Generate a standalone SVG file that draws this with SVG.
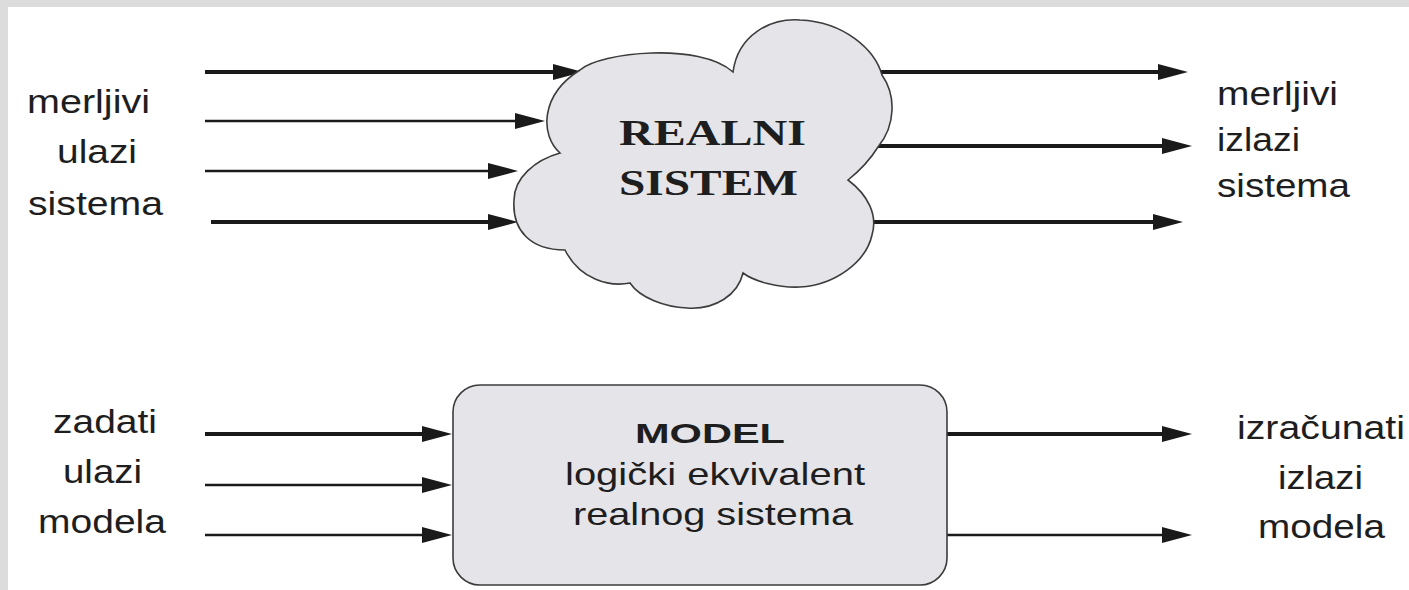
<svg xmlns="http://www.w3.org/2000/svg" width="1409" height="590" viewBox="0 0 1409 590">
  <style>
    .lbl { font-family: "Liberation Sans", Arial, sans-serif; font-size: 33px; fill: #1e1e1e; }
    .cloudtxt { font-family: "Liberation Serif", "Times New Roman", serif; font-size: 35px; font-weight: bold; fill: #1e1e1e; }
    .boxtitle { font-family: "Liberation Sans", Arial, sans-serif; font-size: 28px; font-weight: bold; fill: #1e1e1e; }
    .boxtxt { font-family: "Liberation Sans", Arial, sans-serif; font-size: 32px; fill: #1e1e1e; }
    .thick { stroke: #1a1a1a; stroke-width: 3.8; fill: none; marker-end: url(#arrow); }
    .thin { stroke: #1a1a1a; stroke-width: 2.3; fill: none; marker-end: url(#arrow); }
    .shape { fill: #e5e5e9; stroke: #3c3c3c; stroke-width: 1.6; }
  </style>
  <defs>
    <marker id="arrow" markerUnits="userSpaceOnUse" markerWidth="30" markerHeight="16" refX="2" refY="8" orient="auto">
      <path d="M0,0 L30,8 L0,16 Z" fill="#1a1a1a"/>
    </marker>
  </defs>

  <rect x="0" y="0" width="1409" height="590" fill="#dcdcdc"/>
  <rect x="8" y="7" width="1401" height="583" fill="#ffffff"/>

  <g id="connectors">
    <path class="thick" d="M205,72 H555"/>
    <path class="thin" d="M205,121 H517"/>
    <path class="thin" d="M205,171 H490"/>
    <path class="thick" d="M211,222 H490"/>
    <path class="thick" d="M878,72 H1160"/>
    <path class="thick" d="M878,146 H1164"/>
    <path class="thick" d="M872,222 H1155"/>
    <path class="thick" d="M205,434 H424"/>
    <path class="thin" d="M205,485 H424"/>
    <path class="thin" d="M205,535 H424"/>
    <path class="thick" d="M947,434 H1164"/>
    <path class="thin" d="M947,535 H1164"/>
  </g>

  <g id="realni-sistem">
    <path class="shape" d="M580,70 C600,52 700,42 733,72 C738,35 770,18 800,20 C845,22 875,50 882,75 C896,95 896,125 878,147 C870,160 858,172 848,180 C868,195 878,215 872,235 C866,262 835,285 800,287 C780,288 755,282 743,273 C738,295 715,310 687,308 C665,307 640,298 630,283 C610,287 580,280 565,250 C530,250 512,230 514,200 C514,178 535,160 560,153 C540,135 540,95 580,70 Z"/>
    <text class="cloudtxt" x="619" y="145" textLength="187" lengthAdjust="spacingAndGlyphs">REALNI</text>
    <text class="cloudtxt" x="619" y="195" textLength="179" lengthAdjust="spacingAndGlyphs">SISTEM</text>
  </g>

  <g id="model">
    <rect class="shape" x="453" y="385" width="494" height="200" rx="27" ry="27"/>
    <text class="boxtitle" x="635" y="443" textLength="150" lengthAdjust="spacingAndGlyphs">MODEL</text>
    <text class="boxtxt" x="565" y="485" textLength="300" lengthAdjust="spacingAndGlyphs">logički ekvivalent</text>
    <text class="boxtxt" x="573" y="525" textLength="280" lengthAdjust="spacingAndGlyphs">realnog sistema</text>
  </g>

  <g id="label-merljivi-ulazi">
    <text class="lbl" x="27" y="113" textLength="123" lengthAdjust="spacingAndGlyphs">merljivi</text>
    <text class="lbl" x="57" y="163" textLength="80" lengthAdjust="spacingAndGlyphs">ulazi</text>
    <text class="lbl" x="28" y="215" textLength="135" lengthAdjust="spacingAndGlyphs">sistema</text>
  </g>

  <g id="label-merljivi-izlazi">
    <text class="lbl" x="1217" y="105" textLength="121" lengthAdjust="spacingAndGlyphs">merljivi</text>
    <text class="lbl" x="1217" y="151" textLength="83" lengthAdjust="spacingAndGlyphs">izlazi</text>
    <text class="lbl" x="1217" y="197" textLength="133" lengthAdjust="spacingAndGlyphs">sistema</text>
  </g>

  <g id="label-zadati-ulazi">
    <text class="lbl" x="53" y="433" textLength="104" lengthAdjust="spacingAndGlyphs">zadati</text>
    <text class="lbl" x="63" y="483" textLength="79" lengthAdjust="spacingAndGlyphs">ulazi</text>
    <text class="lbl" x="38" y="533" textLength="128" lengthAdjust="spacingAndGlyphs">modela</text>
  </g>

  <g id="label-izracunati-izlazi">
    <text class="lbl" x="1237" y="439" textLength="168" lengthAdjust="spacingAndGlyphs">izračunati</text>
    <text class="lbl" x="1278" y="489" textLength="85" lengthAdjust="spacingAndGlyphs">izlazi</text>
    <text class="lbl" x="1258" y="538" textLength="127" lengthAdjust="spacingAndGlyphs">modela</text>
  </g>
</svg>
